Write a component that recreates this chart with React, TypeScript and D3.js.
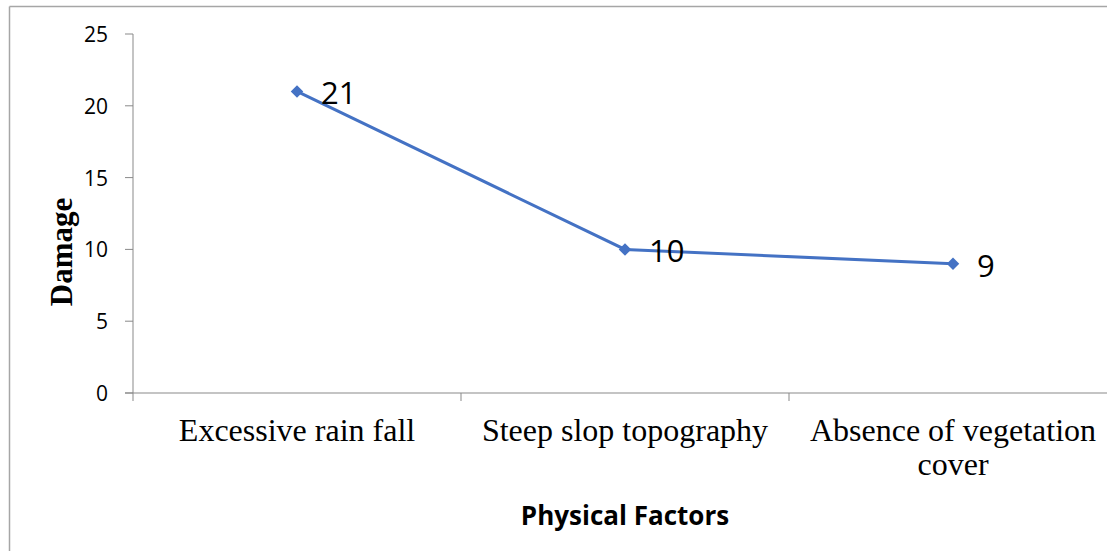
import React from "react";
import * as d3 from "d3";

const categories: string[][] = [
  ["Excessive rain fall"],
  ["Steep slop topography"],
  ["Absence of vegetation", "cover"],
];
const damageValues: number[] = [21, 10, 9];
const yTicks: number[] = [0, 5, 10, 15, 20, 25];
const xAxisTitle = "Physical Factors";
const yAxisTitle = "Damage";

const W = 1107;
const H = 551;
const left = 133;
const right = 1117;
const top = 34;
const bottom = 393;
const lineColor = "#4472C4";
const axisColor = "#898989";

export default function App() {
  const keys = categories.map((c) => c.join(" "));
  const x = d3.scaleBand<string>().domain(keys).range([left, right]);
  const y = d3.scaleLinear().domain([0, 25]).range([bottom, top]);
  const pts = damageValues.map((v, i) => [x(keys[i])! + x.bandwidth() / 2, y(v)] as [number, number]);
  const line = d3.line()(pts) || "";
  const diamond = d3.symbol().type(d3.symbolDiamond2).size(100)() || "";
  const catTicks = keys.map((k) => x(k)!).concat([right]);

  return (
    <svg width={W} height={H} style={{ position: "absolute", left: 0, top: 0, background: "#fff" }}>
      <rect x={0} y={0} width={W} height={H} fill="#fff" />
      {/* outer border */}
      <line x1={9.5} y1={6.5} x2={W} y2={6.5} stroke="#a6a6a6" strokeWidth={1.5} />
      <line x1={9.5} y1={6.5} x2={9.5} y2={H} stroke="#a6a6a6" strokeWidth={1.5} />
      {/* y axis */}
      <line x1={left} y1={top} x2={left} y2={bottom} stroke={axisColor} strokeWidth={1} />
      {yTicks.map((t) => (
        <g key={t}>
          <line x1={left - 8} x2={left} y1={y(t)} y2={y(t)} stroke={axisColor} />
          <text x={108} y={y(t)} textAnchor="end" dominantBaseline="central" fontFamily="'Open Sans', sans-serif" fontSize={21} fill="#000">
            {t}
          </text>
        </g>
      ))}
      {/* x axis */}
      <line x1={left - 8} x2={W} y1={bottom} y2={bottom} stroke={axisColor} />
      {catTicks.map((t, i) => (
        <line key={i} x1={t} x2={t} y1={bottom} y2={bottom + 8} stroke={axisColor} />
      ))}
      {categories.map((lines, i) => (
        <text key={i} x={x(keys[i])! + x.bandwidth() / 2} y={441} textAnchor="middle" fontFamily="'Liberation Serif', 'Times New Roman', serif" fontSize={32} fill="#000">
          {lines.map((l, j) => (
            <tspan key={j} x={x(keys[i])! + x.bandwidth() / 2} dy={j === 0 ? 0 : 34}>
              {l}
            </tspan>
          ))}
        </text>
      ))}
      {/* line */}
      <path d={line} fill="none" stroke={lineColor} strokeWidth={3} />
      {pts.map((p, i) => (
        <g key={i}>
          <path d={diamond} transform={`translate(${p[0]},${p[1]})`} fill={lineColor} />
          <text x={p[0] + 24} y={p[1] + 1} dominantBaseline="central" fontFamily="'Open Sans', sans-serif" fontSize={31} fill="#000">
            {damageValues[i]}
          </text>
        </g>
      ))}
      {/* axis titles */}
      <text x={625} y={525} textAnchor="middle" fontFamily="'Open Sans', sans-serif" fontWeight="bold" fontSize={26} fill="#000">
        {xAxisTitle}
      </text>
      <text transform={`translate(72,252) rotate(-90)`} textAnchor="middle" fontFamily="'Liberation Serif', 'Times New Roman', serif" fontWeight="bold" fontSize={31} fill="#000">
        {yAxisTitle}
      </text>
    </svg>
  );
}
